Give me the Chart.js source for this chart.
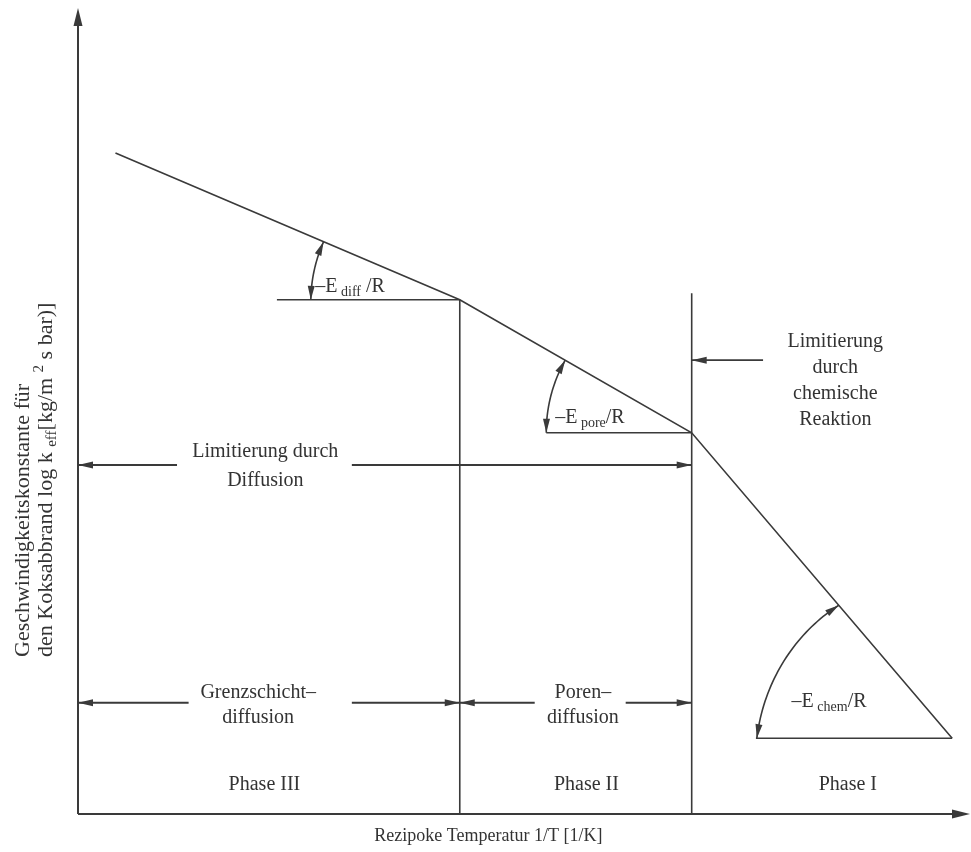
<!DOCTYPE html>
<html>
<head>
<meta charset="utf-8">
<script src="https://cdn.jsdelivr.net/npm/chart.js@4.4.1/dist/chart.umd.min.js"></script>
<style>
  body { margin: 0; background: #fff; }
  #wrap { width: 971px; height: 852px; }
</style>
</head>
<body>
<div id="wrap"><canvas id="kinetik"></canvas></div>
<script>
// Arrhenius-Verlauf: Anfang, die beiden Knicke und Ende der Kurve
const invTemp = [4.2, 42.8, 68.8, 98.0];
const logK = [82.0, 63.8, 47.3, 9.4];

// Phasengrenzen (x) und wie hoch die senkrechten Linien reichen
const phaseBounds = [42.8, 68.8];
const boundTops = [63.8, 64.6];
const phaseNames = ['Phase III', 'Phase II', 'Phase I'];

// Waagerechte Bezugslinien der drei Steigungen beginnen hier
const baseStart = [22.3, 52.5, 76.0];
// Winkelbögen: Fußpunkt auf der Bezugslinie, Spitze auf der Kurve (log k)
const arcFoot = [26.1, 52.5, 76.1];
const arcTip = [71.0, 56.3, 25.9];
const slopeNames = ['diff', 'pore', 'chem'];

const INK = '#3a3a3a';
const SERIF = '"Liberation Serif", "DejaVu Serif", serif';

function seg(x0, y0, x1, y1) {
    return [{ x: x0, y: y0 }, { x: x1, y: y1 }];
}

const datasets = [];
datasets.push({
    data: invTemp.map((v, i) => ({ x: v, y: logK[i] })),
    borderColor: INK, borderWidth: 1.6
});
phaseBounds.forEach((b, i) => {
    datasets.push({ data: seg(b, 0, b, boundTops[i]), borderColor: INK, borderWidth: 1.6 });
});
baseStart.forEach((s, i) => {
    datasets.push({ data: seg(s, logK[i + 1], invTemp[i + 1], logK[i + 1]), borderColor: INK, borderWidth: 1.6 });
});

function arrowHead(ctx, tx, ty, ang, len, hw) {
    ctx.beginPath();
    ctx.moveTo(tx, ty);
    ctx.lineTo(tx - len * Math.cos(ang) - hw * Math.sin(ang), ty - len * Math.sin(ang) + hw * Math.cos(ang));
    ctx.lineTo(tx - len * Math.cos(ang) + hw * Math.sin(ang), ty - len * Math.sin(ang) - hw * Math.cos(ang));
    ctx.closePath();
    ctx.fill();
}

// Text mit Tief-/Hochstellungen: parts = [text, size, dy]
function richText(ctx, parts, x, y, align) {
    let w = 0;
    parts.forEach(p => { ctx.font = p[1] + 'px ' + SERIF; w += ctx.measureText(p[0]).width; });
    let cx = align === 'center' ? x - w / 2 : x;
    ctx.textAlign = 'left';
    parts.forEach(p => {
        ctx.font = p[1] + 'px ' + SERIF;
        ctx.fillText(p[0], cx, y + (p[2] || 0));
        cx += ctx.measureText(p[0]).width;
    });
}

const annotate = {
    id: 'annotate',
    afterDatasetsDraw(chart) {
        const { ctx, chartArea: a, scales } = chart;
        const X = v => scales.x.getPixelForValue(v);
        const Y = v => scales.y.getPixelForValue(v);
        ctx.save();
        ctx.strokeStyle = INK;
        ctx.fillStyle = INK;
        ctx.lineCap = 'butt';

        // Achsen mit Pfeilspitzen
        ctx.lineWidth = 2;
        ctx.beginPath();
        ctx.moveTo(a.left, a.bottom);
        ctx.lineTo(a.left, a.top + 14);
        ctx.moveTo(a.left, a.bottom);
        ctx.lineTo(a.right - 14, a.bottom);
        ctx.stroke();
        arrowHead(ctx, a.left, a.top, -Math.PI / 2, 18, 4.5);
        arrowHead(ctx, a.right, a.bottom, 0, 18, 4.5);

        // Winkelbögen zwischen Bezugslinie und Kurvenstück
        ctx.lineWidth = 1.6;
        arcFoot.forEach((foot, i) => {
            const cx = X(invTemp[i + 1]), cy = Y(logK[i + 1]);
            const fx = X(foot);
            const t = (arcTip[i] - logK[i + 1]) / (logK[i] - logK[i + 1]);
            const tx = X(invTemp[i + 1] + t * (invTemp[i] - invTemp[i + 1]));
            const ty = Y(arcTip[i]);
            const r0 = cx - fx, r1 = Math.hypot(tx - cx, ty - cy);
            const a0 = Math.PI;
            let a1 = Math.atan2(ty - cy, tx - cx);
            if (a1 < 0) a1 += 2 * Math.PI;
            const pts = [];
            for (let k = 0; k <= 40; k++) {
                const f = k / 40;
                const r = r0 + (r1 - r0) * f, an = a0 + (a1 - a0) * f;
                pts.push([cx + r * Math.cos(an), cy + r * Math.sin(an)]);
            }
            ctx.beginPath();
            pts.forEach((p, k) => k ? ctx.lineTo(p[0], p[1]) : ctx.moveTo(p[0], p[1]));
            ctx.stroke();
            const s = pts[0], s1 = pts[3], e = pts[40], e1 = pts[37];
            arrowHead(ctx, s[0], s[1], Math.atan2(s[1] - s1[1], s[0] - s1[0]), 14, 3.5);
            arrowHead(ctx, e[0], e[1], Math.atan2(e[1] - e1[1], e[0] - e1[0]), 14, 3.5);
        });

        // waagerechte Pfeile
        const hArrow = (from, to, lv) => {
            ctx.beginPath();
            ctx.moveTo(X(from), Y(lv));
            ctx.lineTo(X(to), Y(lv));
            ctx.stroke();
            arrowHead(ctx, X(to), Y(lv), to > from ? 0 : Math.PI, 15, 3.5);
        };
        ctx.lineWidth = 1.8;
        hArrow(11.1, 0, 43.3);
        hArrow(30.7, phaseBounds[1], 43.3);
        hArrow(12.4, 0, 13.8);
        hArrow(30.7, phaseBounds[0], 13.8);
        hArrow(51.2, phaseBounds[0], 13.8);
        hArrow(61.4, phaseBounds[1], 13.8);
        hArrow(76.8, phaseBounds[1], 56.3);

        // Beschriftungen
        ctx.fillStyle = '#333';
        ctx.textBaseline = 'alphabetic';
        const slopeLabelAt = [[26.6, 64.8], [53.5, 48.5], [80.0, 13.3]];
        slopeNames.forEach((n, i) => {
            const [lx, ly] = slopeLabelAt[i];
            richText(ctx, [['–E', 20, 0], [' ' + n, 14, 4], [i === 0 ? ' /R' : '/R', 20, 0]], X(lx), Y(ly), 'left');
        });

        ctx.textBaseline = 'middle';
        ctx.textAlign = 'center';
        ctx.font = '20px ' + SERIF;
        ['Limitierung', 'durch', 'chemische', 'Reaktion'].forEach((t, i) => {
            ctx.fillText(t, X(84.9), Y(58.6) + i * 26);
        });
        ctx.fillText('Limitierung durch', X(21.0), Y(44.9));
        ctx.fillText('Diffusion', X(21.0), Y(41.4));
        ctx.fillText('Grenzschicht–', X(20.2), Y(15.1));
        ctx.fillText('diffusion', X(20.2), Y(11.9));
        ctx.fillText('Poren–', X(56.6), Y(15.1));
        ctx.fillText('diffusion', X(56.6), Y(11.9));

        const phaseMid = [20.9, 57.0, 86.3];
        phaseNames.forEach((n, i) => ctx.fillText(n, X(phaseMid[i]), Y(3.6)));

        // Achsentitel
        ctx.font = '18px ' + SERIF;
        ctx.fillText('Rezipoke Temperatur 1/T [1/K]', X(46.0), a.bottom + 22);

        ctx.save();
        ctx.translate(29, a.bottom - 157);
        ctx.rotate(-Math.PI / 2);
        ctx.textBaseline = 'alphabetic';
        richText(ctx, [['Geschwindigkeitskonstante für', 22, 0]], 0, 0, 'left');
        richText(ctx, [['den Koksabbrand log k ', 22, 0], ['eff', 15, 4], ['[kg/m ', 22, 0], ['2', 15, -9], [' s bar)]', 22, 0]], 0, 23, 'left');
        ctx.restore();

        ctx.restore();
    }
};

new Chart(document.getElementById('kinetik'), {
    type: 'scatter',
    data: { datasets: datasets },
    options: {
        responsive: true,
        maintainAspectRatio: false,
        animation: false,
        events: [],
        showLine: true,
        layout: { padding: { left: 78, top: 8, right: 1, bottom: 38 } },
        elements: { point: { radius: 0 }, line: { tension: 0 } },
        scales: {
            x: { type: 'linear', min: 0, max: 100, display: false },
            y: { type: 'linear', min: 0, max: 100, display: false }
        },
        plugins: { legend: { display: false }, tooltip: { enabled: false } }
    },
    plugins: [annotate]
});
</script>
</body>
</html>
